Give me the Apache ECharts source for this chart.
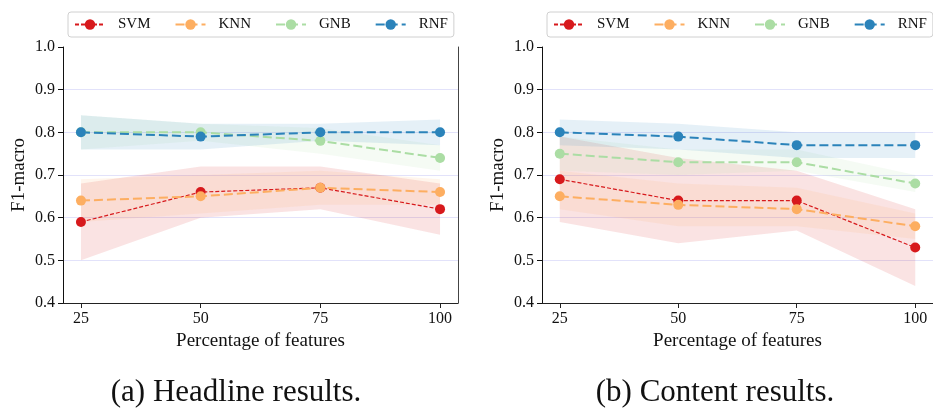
<!DOCTYPE html>
<html>
<head>
<meta charset="utf-8">
<script src="https://cdn.jsdelivr.net/npm/echarts@6/dist/echarts.min.js"></script>
<style>
  html, body { margin: 0; padding: 0; background: #fff; }
  #main { width: 933px; height: 408px; }
</style>
</head>
<body>
<div id="main"></div>
<script>
// x positions (percentage of features)
const xTicks = [25, 50, 75, 100];
const names = ['SVM', 'KNN', 'GNB', 'RNF'];
const colors = ['#d7191c', '#fdae61', '#abdda4', '#2b83ba'];

// (a) headline results
const headSvm = [0.59, 0.66, 0.67, 0.62];
const headSvmLow = [0.50, 0.60, 0.62, 0.56];
const headSvmHigh = [0.68, 0.72, 0.72, 0.68];
const headKnn = [0.64, 0.65, 0.67, 0.66];
const headKnnLow = [0.59, 0.61, 0.63, 0.63];
const headKnnHigh = [0.69, 0.70, 0.71, 0.69];
const headGnb = [0.80, 0.80, 0.78, 0.74];
const headGnbLow = [0.76, 0.78, 0.75, 0.71];
const headGnbHigh = [0.84, 0.82, 0.81, 0.77];
const headRnf = [0.80, 0.79, 0.80, 0.80];
const headRnfLow = [0.76, 0.76, 0.78, 0.77];
const headRnfHigh = [0.84, 0.82, 0.82, 0.83];

// (b) content results
const contSvm = [0.69, 0.64, 0.64, 0.53];
const contSvmLow = [0.59, 0.54, 0.57, 0.44];
const contSvmHigh = [0.79, 0.74, 0.71, 0.62];
const contKnn = [0.65, 0.63, 0.62, 0.58];
const contKnnLow = [0.62, 0.58, 0.58, 0.55];
const contKnnHigh = [0.71, 0.68, 0.67, 0.61];
const contGnb = [0.75, 0.73, 0.73, 0.68];
const contGnbLow = [0.71, 0.70, 0.71, 0.66];
const contGnbHigh = [0.79, 0.76, 0.76, 0.70];
const contRnf = [0.80, 0.79, 0.77, 0.77];
const contRnfLow = [0.77, 0.76, 0.74, 0.74];
const contRnfHigh = [0.83, 0.82, 0.80, 0.80];

const panels = [
  { means: [headSvm, headKnn, headGnb, headRnf],
    lows: [headSvmLow, headKnnLow, headGnbLow, headRnfLow],
    highs: [headSvmHigh, headKnnHigh, headGnbHigh, headRnfHigh] },
  { means: [contSvm, contKnn, contGnb, contRnf],
    lows: [contSvmLow, contKnnLow, contGnbLow, contRnfLow],
    highs: [contSvmHigh, contKnnHigh, contGnbHigh, contRnfHigh] }
];

const font = 'Liberation Serif';
const gridLefts = [63, 542];

const pairs = (vals) => vals.map((v, i) => [xTicks[i], v]);

// one polygon (low..high) for each band, drawn with the axis scales
function bandSeries(low, high, color, pi) {
  return {
    type: 'custom', xAxisIndex: pi, yAxisIndex: pi * 2, silent: true, z: 1,
    data: xTicks.map((x, i) => [x, low[i], high[i]]),
    encode: { x: 0, y: [1, 2] },
    renderItem: (params, api) => {
      if (params.dataIndex !== 0) return null;
      const top = xTicks.map((x, i) => api.coord([x, high[i]]));
      const bottom = xTicks.map((x, i) => api.coord([x, low[i]])).reverse();
      return {
        type: 'polygon',
        shape: { points: top.concat(bottom) },
        style: { fill: color, opacity: 0.12 }
      };
    }
  };
}

const series = [];
panels.forEach((p, pi) => {
  names.forEach((n, si) => {
    series.push(bandSeries(p.lows[si], p.highs[si], colors[si], pi));
  });
  names.forEach((n, si) => {
    const svm = si === 0;
    series.push({
      name: n, type: 'line', xAxisIndex: pi, yAxisIndex: pi * 2,
      data: pairs(p.means[si]),
      symbol: 'circle', symbolSize: 10,
      itemStyle: { color: colors[si] },
      lineStyle: { color: colors[si], width: svm ? 1.2 : 2, type: svm ? [4, 2] : [9, 4] },
      z: 3
    });
  });
});

const chart = echarts.init(document.getElementById('main'));

option = {
  animation: false,
  title: [
    { text: '(a) Headline results.', left: 231, top: 372, textAlign: 'center',
      textStyle: { fontFamily: font, fontSize: 31, fontWeight: 'normal', color: '#111' } },
    { text: '(b) Content results.', left: 710, top: 372, textAlign: 'center',
      textStyle: { fontFamily: font, fontSize: 31, fontWeight: 'normal', color: '#111' } }
  ],
  legend: gridLefts.map((l) => ({
    data: names, left: l + 5, top: 12,
    itemWidth: 30, itemHeight: 13, itemGap: 24,
    padding: [5, 6, 5, 6],
    borderColor: '#d0d0d0', borderWidth: 1, borderRadius: 3,
    textStyle: { fontFamily: font, fontSize: 15, color: '#111', padding: [0, 0, 0, 8], width: 33 }
  })),
  grid: gridLefts.map((l) => ({ left: l, top: 47, width: 395, height: 256 })),
  xAxis: gridLefts.map((l, i) => ({
    type: 'value', gridIndex: i, min: 21.25, max: 103.75,
    name: 'Percentage of features', nameLocation: 'middle', nameGap: 28,
    nameTextStyle: { fontFamily: font, fontSize: 19, color: '#111' },
    axisLine: { lineStyle: { color: '#222', width: 1 } },
    axisTick: { customValues: xTicks, length: 5, lineStyle: { color: '#222' } },
    axisLabel: { customValues: xTicks, margin: 8, fontFamily: font, fontSize: 16, color: '#111' },
    splitLine: { show: false }
  })),
  yAxis: [0, 1].flatMap((i) => [
    {
      type: 'value', gridIndex: i, min: 0.4, max: 1.0, interval: 0.1,
      name: 'F1-macro', nameLocation: 'middle', nameGap: 34,
      nameTextStyle: { fontFamily: font, fontSize: 19, color: '#111' },
      axisLine: { show: true, lineStyle: { color: '#111', width: 1 } },
      axisTick: { show: true, length: 5, lineStyle: { color: '#111' } },
      axisLabel: { margin: 8, fontFamily: font, fontSize: 16, color: '#111',
        formatter: (v) => v.toFixed(1) },
      splitLine: { show: true, showMinLine: false, showMaxLine: false,
        lineStyle: { color: '#e2e2fa', width: 1.2 } }
    },
    {
      type: 'value', gridIndex: i, position: 'right', min: 0.4, max: 1.0,
      axisLine: { show: true, lineStyle: { color: '#444', width: 1 } },
      axisTick: { show: false }, axisLabel: { show: false }, splitLine: { show: false }
    }
  ]),
  series: series
};

chart.setOption(option);
</script>
</body>
</html>
